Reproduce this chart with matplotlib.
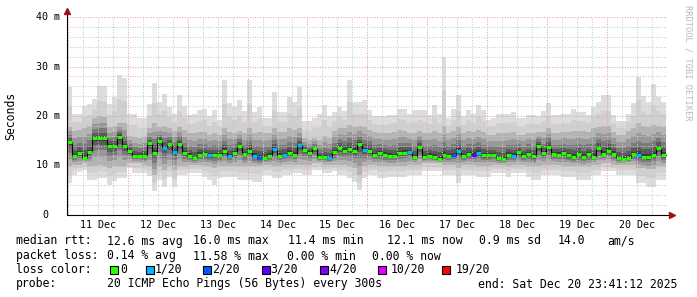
import numpy as np
import matplotlib
matplotlib.use("Agg")
import matplotlib.pyplot as plt
from matplotlib.patches import Rectangle
from matplotlib.transforms import blended_transform_factory

W, H = 697, 297
MONO = "DejaVu Sans Mono"

# --- data: one value per 2 h bin, 10 days ---
median_rtt = np.array([
    14.7, 11.9, 12.5, 11.6, 12.7, 15.5, 15.5, 15.6, 13.9, 13.9,
    15.8, 13.9, 13.0, 11.9, 11.9, 11.9, 14.5, 12.6, 15.0, 13.6,
    14.3, 12.8, 14.4, 12.5, 12.0, 11.5, 12.2, 12.3, 12.1, 12.1,
    12.2, 13.0, 11.9, 12.6, 13.9, 12.3, 13.0, 12.0, 11.6, 11.6,
    12.0, 13.3, 12.0, 12.1, 12.6, 12.2, 14.1, 13.2, 12.6, 13.5,
    11.7, 11.7, 11.6, 12.7, 13.5, 13.0, 13.4, 13.0, 14.3, 13.1,
    13.0, 12.1, 12.5, 12.2, 12.0, 11.9, 12.5, 12.6, 12.8, 11.7,
    13.7, 11.7, 12.0, 11.7, 11.4, 12.1, 11.9, 12.1, 13.0, 11.9,
    12.3, 12.2, 12.6, 12.1, 12.1, 12.1, 11.5, 11.3, 12.2, 12.0,
    12.7, 11.9, 12.4, 11.9, 14.0, 12.5, 13.8, 12.3, 12.2, 12.5,
    12.1, 11.8, 12.3, 11.7, 12.3, 11.8, 13.5, 12.3, 13.0, 12.4,
    11.5, 11.4, 11.6, 12.3, 12.2, 11.8, 11.8, 12.2, 13.6, 12.1,
])

lost_pings = [
    0, 0, 0, 0, 0, 0, 0, 0, 0, 0, 0, 0, 0, 0, 0, 0, 0, 0, 0, 1,
    0, 1, 0, 0, 0, 0, 0, 0, 1, 0, 0, 0, 1, 0, 0, 0, 0, 1, 2, 0,
    0, 1, 0, 1, 0, 0, 1, 0, 0, 0, 0, 0, 1, 0, 0, 0, 0, 0, 0, 1,
    0, 0, 0, 0, 0, 0, 0, 0, 1, 0, 0, 0, 0, 0, 0, 0, 0, 2, 1, 0,
    0, 3, 1, 0, 0, 0, 0, 0, 0, 1, 0, 0, 0, 0, 0, 0, 0, 0, 0, 0,
    0, 0, 0, 0, 0, 0, 0, 0, 0, 0, 0, 0, 0, 0, 1, 0, 0, 0, 0, 0,
]

smoke_max = np.array([
    25.9, 20.5, 20.5, 22.0, 22.5, 23.5, 26.0, 26.0, 22.5, 23.9,
    28.3, 27.7, 20.5, 20.5, 19.5, 19.5, 22.5, 26.6, 22.9, 24.5,
    21.9, 20.5, 24.2, 22.0, 20.2, 20.5, 21.2, 21.5, 19.9, 21.2,
    19.2, 27.3, 22.6, 21.9, 23.2, 21.0, 27.3, 20.9, 21.9, 19.5,
    19.5, 24.9, 20.9, 20.9, 23.9, 22.9, 25.9, 18.9, 18.9, 19.5,
    20.5, 22.2, 20.0, 20.9, 21.9, 21.0, 27.3, 22.9, 22.9, 23.2,
    21.2, 19.9, 19.9, 20.0, 20.2, 20.2, 21.5, 21.5, 20.5, 21.2,
    21.2, 21.2, 20.2, 22.2, 20.5, 32.0, 19.5, 21.5, 24.2, 19.9,
    21.2, 20.5, 22.2, 21.2, 19.2, 19.5, 20.5, 20.5, 20.5, 20.9,
    19.5, 19.5, 20.2, 20.2, 19.9, 21.0, 22.6, 20.2, 20.2, 20.5,
    20.5, 21.5, 20.9, 20.9, 20.2, 21.9, 22.9, 24.2, 24.2, 20.2,
    18.9, 18.9, 20.5, 22.6, 27.9, 24.0, 22.9, 26.4, 23.9, 22.9,
])

smoke_min = np.array([
    6.4, 8.1, 8.6, 9.1, 7.1, 7.1, 7.4, 7.4, 6.1, 6.8,
    7.4, 7.4, 9.4, 8.4, 8.4, 8.4, 7.8, 4.8, 7.1, 5.7,
    7.7, 5.7, 8.0, 8.1, 8.4, 8.4, 8.4, 7.7, 7.1, 6.1,
    7.4, 7.7, 7.7, 7.7, 7.1, 7.1, 7.1, 6.7, 6.7, 8.1,
    8.1, 7.4, 7.4, 8.1, 8.1, 8.4, 8.4, 8.1, 8.1, 9.1,
    9.1, 8.4, 8.4, 8.8, 8.1, 8.1, 7.4, 6.7, 5.1, 7.4,
    8.1, 8.1, 7.4, 7.4, 7.7, 7.7, 7.7, 7.7, 8.1, 8.1,
    8.1, 8.8, 8.8, 8.8, 8.8, 8.1, 8.1, 8.1, 6.4, 8.1,
    8.1, 8.1, 7.7, 7.7, 7.7, 8.4, 8.4, 8.4, 7.7, 8.4,
    8.4, 8.4, 7.7, 7.1, 7.1, 8.1, 8.1, 8.1, 8.1, 7.7,
    7.7, 7.7, 7.1, 7.1, 7.1, 8.1, 8.1, 8.8, 8.8, 8.8,
    8.1, 8.1, 8.1, 8.1, 6.4, 6.4, 5.7, 5.7, 7.1, 7.1,
])

smoke_hi = np.array([
    17.8, 17.0, 17.2, 17.5, 18.0, 19.5, 19.9, 19.8, 17.8, 18.0,
    18.5, 18.5, 16.0, 15.8, 15.5, 15.8, 17.5, 18.5, 17.8, 18.0,
    17.5, 17.0, 17.8, 17.2, 16.5, 16.5, 16.8, 16.8, 16.2, 16.5,
    16.2, 17.5, 16.8, 16.5, 17.0, 16.5, 17.5, 16.5, 16.8, 16.5,
    16.5, 17.5, 16.8, 16.8, 17.5, 17.2, 17.5, 15.5, 15.2, 15.5,
    15.2, 16.0, 15.5, 17.0, 17.5, 17.5, 18.2, 17.8, 18.0, 17.8,
    17.2, 16.8, 16.5, 16.5, 16.5, 16.8, 17.2, 17.0, 16.5, 16.5,
    17.0, 16.5, 16.5, 17.0, 16.5, 18.0, 16.5, 17.0, 17.8, 16.5,
    17.0, 16.8, 17.2, 16.8, 16.2, 16.2, 16.5, 16.5, 16.5, 16.8,
    16.2, 16.2, 16.5, 16.5, 16.8, 16.8, 17.5, 16.5, 16.5, 16.8,
    16.8, 17.0, 17.0, 17.0, 16.8, 17.5, 17.8, 18.0, 18.0, 16.8,
    16.2, 16.2, 17.0, 17.5, 18.5, 18.0, 17.8, 18.2, 18.0, 17.8,
])

smoke_lo = np.array([
    9.9, 10.2, 10.2, 10.5, 10.0, 10.0, 10.2, 10.0, 9.5, 9.8,
    10.0, 10.0, 10.5, 10.5, 10.5, 10.2, 9.8, 8.0, 9.8, 9.0,
    9.8, 9.0, 10.0, 10.0, 10.2, 10.2, 10.2, 10.0, 10.0, 9.5,
    10.0, 10.0, 10.0, 10.0, 9.8, 9.8, 10.0, 9.8, 9.8, 10.2,
    10.2, 10.0, 10.0, 10.2, 10.2, 10.2, 10.2, 10.2, 10.2, 10.5,
    10.5, 10.2, 10.2, 10.2, 10.2, 10.2, 9.8, 9.5, 8.0, 9.8,
    10.2, 10.2, 10.0, 10.0, 10.0, 10.0, 10.0, 10.0, 10.2, 10.2,
    10.2, 10.5, 10.5, 10.5, 10.5, 10.2, 10.2, 10.2, 9.5, 10.2,
    10.2, 10.2, 10.0, 10.0, 10.0, 10.2, 10.2, 10.2, 10.0, 10.2,
    10.2, 10.2, 10.0, 9.8, 9.8, 10.2, 10.2, 10.2, 10.2, 10.0,
    10.0, 10.0, 9.8, 9.8, 9.8, 10.2, 10.2, 10.5, 10.5, 10.2,
    10.2, 10.2, 10.2, 10.2, 9.5, 9.5, 9.2, 9.2, 9.8, 9.8,
])

day_labels = ["11 Dec", "12 Dec", "13 Dec", "14 Dec", "15 Dec",
              "16 Dec", "17 Dec", "18 Dec", "19 Dec", "20 Dec"]
y_ticks = [0, 10, 20, 30, 40]
y_tick_labels = ["0", "10 m", "20 m", "30 m", "40 m"]

loss_levels = [0, 1, 2, 3, 4, 10, 19]
loss_labels = ["0", "1/20", "2/20", "3/20", "4/20", "10/20", "19/20"]
loss_colors = ["#26ff00", "#00b8ff", "#0059ff", "#5e00ff", "#7e00ff", "#dd00ff", "#ff0000"]

rtt_stats = ["12.6 ms avg", "16.0 ms max", "11.4 ms min", "12.1 ms now", "0.9 ms sd", "14.0", "am/s"]
loss_stats = ["0.14 % avg", "11.58 % max", "0.00 % min", "0.00 % now"]
probe_text = "20 ICMP Echo Pings (56 Bytes) every 300s"
end_text = "end: Sat Dec 20 23:41:12 2025"


def loss_color(n):
    c = loss_colors[0]
    for lvl, col in zip(loss_levels, loss_colors):
        if n >= lvl:
            c = col
    return c


def ext(a):
    return np.append(a, a[-1])


fig = plt.figure(figsize=(W / 100, H / 100), dpi=100)
fig.patch.set_facecolor("white")
ax = fig.add_axes([67 / W, 1 - 215 / H, 600 / W, 198 / H])

start = -19 / 60  # hours relative to 11 Dec 00:00
edges = start + 2.0 * np.arange(len(median_rtt) + 1)

# smoke: light outside, darker towards the median
ax.fill_between(edges, ext(smoke_min), ext(smoke_max), step="post", color="#dddddd", lw=0)
ax.fill_between(edges, ext((smoke_min + smoke_lo) / 2), ext((smoke_max + smoke_hi) / 2),
                step="post", color="#d0d0d0", lw=0)
ax.fill_between(edges, ext(smoke_lo), ext(smoke_hi), step="post", color="#b3b3b3", lw=0)
for t, c in [(0.3, "#989898"), (0.55, "#7a7a7a"), (0.75, "#5a5a5a"), (0.9, "#3c3c3c")]:
    lo = smoke_lo + t * (median_rtt - smoke_lo)
    hi = smoke_hi - t * (smoke_hi - median_rtt)
    ax.fill_between(edges, ext(lo), ext(hi), step="post", color=c, lw=0)

# grid
ax.set_xlim(start, start + 240)
ax.set_ylim(0, 40)
ax.set_xticks(np.arange(0, 241, 24))
ax.set_xticks(np.arange(0, 241, 6), minor=True)
ax.set_yticks(y_ticks)
ax.set_yticks(np.arange(0, 41, 2), minor=True)
ax.set_axisbelow(False)
ax.grid(True, which="major", color="#e8a0a0", ls=(0, (1, 1.5)), lw=0.75)
ax.grid(True, which="minor", color="#c8c8c8", ls=(0, (1, 1.5)), lw=0.75)
ax.tick_params(which="both", length=0, labelleft=False, labelbottom=False)
for s in ax.spines.values():
    s.set_visible(False)

# median line coloured by loss
ax.step(edges, ext(median_rtt), where="post", color="black", lw=0.8, zorder=4)
ax.hlines(median_rtt, edges[:-1], edges[1:], colors=[loss_color(n) for n in lost_pings],
          lw=2.2, zorder=5)

# axes with arrows
ax.plot([0, 0], [0, 1 + 6 / 198], transform=ax.transAxes, color="black", lw=0.8,
        clip_on=False, zorder=6)
ax.plot([0, 1 + 4 / 600], [0, 0], transform=ax.transAxes, color="black", lw=0.8,
        clip_on=False, zorder=6)
ax.plot([0], [1 + 6 / 198], marker="^", ms=4, color="#a01010", transform=ax.transAxes,
        clip_on=False, zorder=7)
ax.plot([1 + 5 / 600], [0], marker=">", ms=4, color="#a01010", transform=ax.transAxes,
        clip_on=False, zorder=7)

# tick labels
trx = blended_transform_factory(ax.transData, ax.transAxes)
for k, lab in enumerate(day_labels):
    ax.text(12 + 24 * k, -10 / 198, lab, transform=trx, ha="center", va="center",
            fontsize=7.2, family=MONO)
try_ = blended_transform_factory(ax.transAxes, ax.transData)
for v, lab in zip(y_ticks, y_tick_labels):
    xr = 60 if lab.endswith("m") else 48
    ax.text((xr - 67) / 600, v, lab, transform=try_, ha="right", va="center",
            fontsize=7.2, family=MONO)


def ftext(x, y, s, **kw):
    kw.setdefault("fontsize", 8.3)
    kw.setdefault("ha", "left")
    kw.setdefault("va", "center")
    fig.text(x / W, 1 - y / H, s, family=MONO, **kw)


ftext(11, 116, "Seconds", rotation=90, ha="center")
ftext(688, 5, "RRDTOOL / TOBI OETIKER", rotation=270, ha="center", va="top",
      fontsize=6.2, color="#b8b8b8")

# legend
ftext(16, 241, "median rtt:")
for x, s in zip([107, 193, 288, 387, 479, 558, 607], rtt_stats):
    ftext(x, 241, s)
ftext(16, 256, "packet loss:")
for x, s in zip([107, 193, 287, 372], loss_stats):
    ftext(x, 256, s)
ftext(16, 269.5, "loss color:")
box_x = [110, 146, 203, 262, 320, 378, 442]
lab_x = [120, 155, 212, 270, 329, 391, 456]
for bx, lx, lab, col in zip(box_x, lab_x, loss_labels, loss_colors):
    fig.patches.append(Rectangle((bx / W, 1 - 273.5 / H), 8 / W, 8 / H, transform=fig.transFigure,
                                 facecolor=col, edgecolor="black", lw=0.8))
    ftext(lx, 269.5, lab)
ftext(16, 284, "probe:")
ftext(107, 284, probe_text)
ftext(478, 284, end_text)

fig.savefig("out.png", dpi=100)
